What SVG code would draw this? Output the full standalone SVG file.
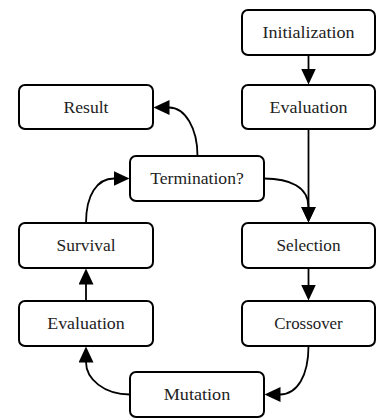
<svg xmlns="http://www.w3.org/2000/svg" width="379" height="418" viewBox="0 0 379 418">
<style>
.box{fill:#fff;stroke:#000;stroke-width:2}
.lbl{font-family:"Liberation Serif","DejaVu Serif",serif;font-size:16px;fill:#222;text-anchor:middle}
.edge{fill:none;stroke:#000;stroke-width:1.8;marker-end:url(#ah)}
</style>
<defs>
<marker id="ah" markerUnits="userSpaceOnUse" viewBox="0 0 16 15" markerWidth="16" markerHeight="15" refX="0.5" refY="7.5" orient="auto">
<path d="M0,0 L16,7.5 L0,15 z" fill="#000"/>
</marker>
</defs>
<rect width="379" height="418" fill="#fff"/>
<g id="connectors">
<path class="edge" d="M308.5,55 L308.5,69"/>
<path class="edge" d="M308.5,129 L308.5,207"/>
<path class="edge" d="M264,178.5 C290,178.5 308.5,187 308.5,207"/>
<path class="edge" d="M197.5,156 C197.5,128 185,107.5 169,107.5"/>
<path class="edge" d="M86,223 C86,195 97,178.5 114,178.5"/>
<path class="edge" d="M308.5,268 L308.5,285"/>
<path class="edge" d="M308.5,346 C308.5,376 297,394.5 280,394.5"/>
<path class="edge" d="M130,394.5 C104,394.5 86,379 86,362"/>
<path class="edge" d="M86,301 L86,284"/>
</g>
<g id="initialization"><rect class="box" x="242" y="10" width="133" height="45" rx="6"/><text class="lbl" x="308.5" y="38" textLength="92" lengthAdjust="spacingAndGlyphs">Initialization</text></g>
<g id="evaluation1"><rect class="box" x="242" y="85" width="133" height="44" rx="6"/><text class="lbl" x="308.5" y="112.5" textLength="78" lengthAdjust="spacingAndGlyphs">Evaluation</text></g>
<g id="result"><rect class="box" x="19" y="85" width="134" height="44" rx="6"/><text class="lbl" x="86" y="112.5" textLength="45" lengthAdjust="spacingAndGlyphs">Result</text></g>
<g id="termination"><rect class="box" x="130" y="156" width="134" height="45" rx="6"/><text class="lbl" x="197" y="184" textLength="93.5" lengthAdjust="spacingAndGlyphs">Termination?</text></g>
<g id="survival"><rect class="box" x="19" y="223" width="134" height="45" rx="6"/><text class="lbl" x="86" y="251" textLength="59" lengthAdjust="spacingAndGlyphs">Survival</text></g>
<g id="selection"><rect class="box" x="242" y="223" width="133" height="45" rx="6"/><text class="lbl" x="308.5" y="251" textLength="64" lengthAdjust="spacingAndGlyphs">Selection</text></g>
<g id="evaluation2"><rect class="box" x="19" y="301" width="134" height="45" rx="6"/><text class="lbl" x="86" y="329" textLength="77.5" lengthAdjust="spacingAndGlyphs">Evaluation</text></g>
<g id="crossover"><rect class="box" x="242" y="301" width="133" height="45" rx="6"/><text class="lbl" x="308.5" y="329" textLength="68.5" lengthAdjust="spacingAndGlyphs">Crossover</text></g>
<g id="mutation"><rect class="box" x="130" y="372" width="134" height="45" rx="6"/><text class="lbl" x="197" y="400" textLength="66.5" lengthAdjust="spacingAndGlyphs">Mutation</text></g>
</svg>
